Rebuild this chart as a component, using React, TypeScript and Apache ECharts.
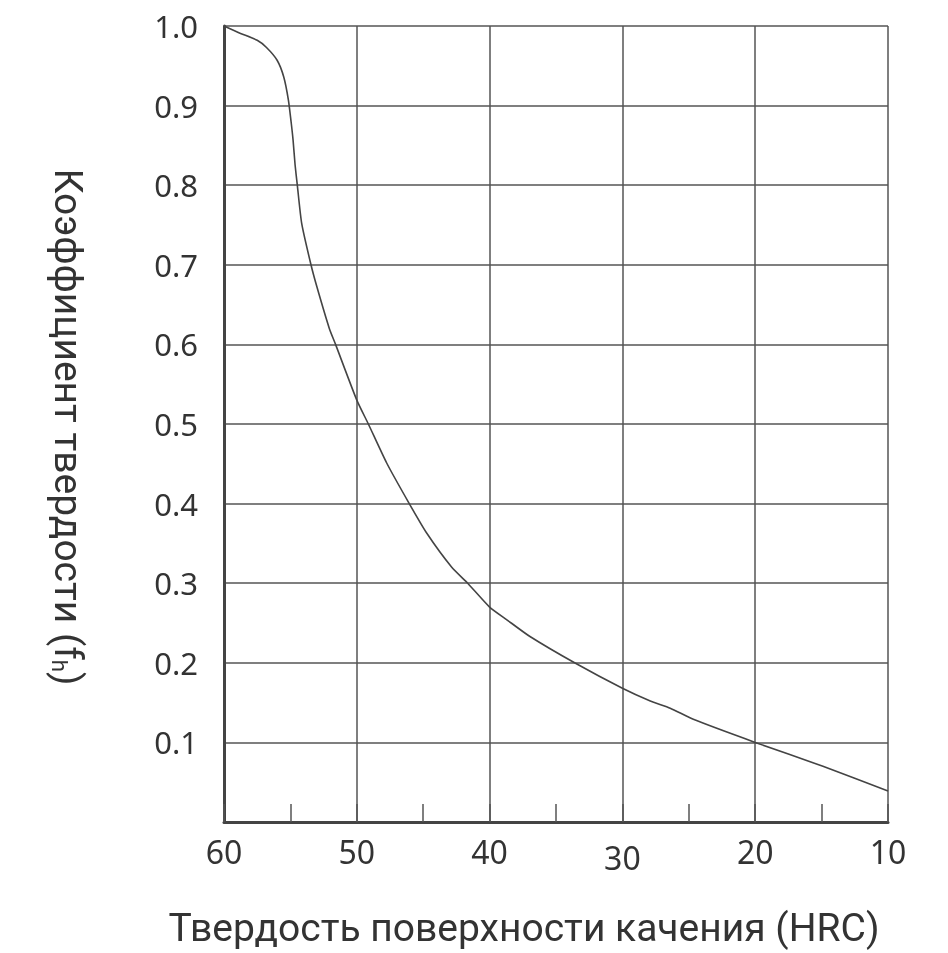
import React, { useEffect, useRef } from "react";
import * as echarts from "echarts";

const hrc = [60, 58.8, 57.5, 56.8, 56.0, 55.5, 55.15, 54.95, 54.8, 54.65, 54.48, 54.15, 53.45, 53.0, 52.07, 51.6, 50.0, 49.13, 47.75, 46.05, 44.74, 42.85, 41.65, 40.0, 38.7, 36.96, 33.6, 30.0, 27.9, 26.4, 24.66, 20.0, 14.9, 10.0];
const fh = [1.0, 0.991, 0.982, 0.973, 0.957, 0.936, 0.907, 0.88, 0.857, 0.826, 0.8, 0.752, 0.7, 0.672, 0.62, 0.6, 0.53, 0.5, 0.451, 0.4, 0.363, 0.32, 0.3, 0.27, 0.254, 0.233, 0.2, 0.168, 0.152, 0.143, 0.129, 0.1, 0.07, 0.039];

const xTitle = "Твердость поверхности качения (HRC)";
const yTitleMain = "Коэффициент твердости (f";
const yTitleSub = "h";
const yTitleEnd = ")";

const TEXT = "#333";
const GRID = "#555";
const TICK_FONT = "Noto Sans";

export default function App() {
  const ref = useRef<HTMLDivElement>(null);
  useEffect(() => {
    const chart = echarts.init(ref.current!, null, { renderer: "svg" });
    const data = hrc.map((x, i) => [x, fh[i]]);
    chart.setOption({
      animation: false,
      grid: { left: 224, top: 26, right: 60, bottom: 131 },
      xAxis: {
        type: "value",
        inverse: true,
        min: 10,
        max: 60,
        interval: 10,
        axisLine: { show: true, lineStyle: { color: "#444", width: 3 } },
        axisTick: { show: true, inside: true, length: 18, lineStyle: { color: GRID, width: 1.5 } },
        minorTick: { show: true, splitNumber: 2, length: 18, lineStyle: { color: GRID, width: 1.5 } },
        splitLine: { show: true, lineStyle: { color: GRID, width: 1.5 } },
        axisLabel: {
          margin: 13,
          color: TEXT,
          fontSize: 32,
          fontFamily: TICK_FONT,
          formatter: (v: number) => (v === 30 ? "{low|30}" : String(v)),
          rich: {
            low: { fontSize: 32, fontFamily: TICK_FONT, color: TEXT, padding: [6, 0, 0, 0] },
          },
        },
      },
      yAxis: {
        type: "value",
        min: 0,
        max: 1,
        interval: 0.1,
        axisLine: { show: true, lineStyle: { color: "#444", width: 3 } },
        axisTick: { show: false },
        splitLine: { show: true, lineStyle: { color: GRID, width: 1.5 } },
        axisLabel: {
          margin: 26,
          color: TEXT,
          fontSize: 31,
          fontFamily: TICK_FONT,
          formatter: (v: number) => (v === 0 ? "" : v.toFixed(1)),
        },
      },
      graphic: [
        {
          type: "text",
          x: 524,
          y: 928,
          style: {
            text: xTitle,
            fill: TEXT,
            font: "39px Roboto",
            lineHeight: 38,
            align: "center",
            verticalAlign: "middle",
          },
        },
        {
          type: "text",
          x: 68,
          y: 427,
          rotation: -Math.PI / 2,
          style: {
            text: "{m|" + yTitleMain + "}{s|" + yTitleSub + "}{m|" + yTitleEnd + "}",
            fill: TEXT,
            align: "center",
            verticalAlign: "middle",
            rich: {
              m: { fontSize: 39, fontFamily: "Roboto", fill: TEXT, verticalAlign: "bottom" },
              s: { fontSize: 22, fontFamily: "Roboto", fill: TEXT, verticalAlign: "bottom" },
            },
          },
        },
      ],
      series: [
        {
          type: "line",
          data,
          showSymbol: false,
          smooth: 0.2,
          lineStyle: { color: "#444", width: 1.6 },
        },
      ],
    });
    return () => chart.dispose();
  }, []);
  return <div ref={ref} style={{ position: "fixed", left: 0, top: 0, width: 948, height: 953 }} />;
}
